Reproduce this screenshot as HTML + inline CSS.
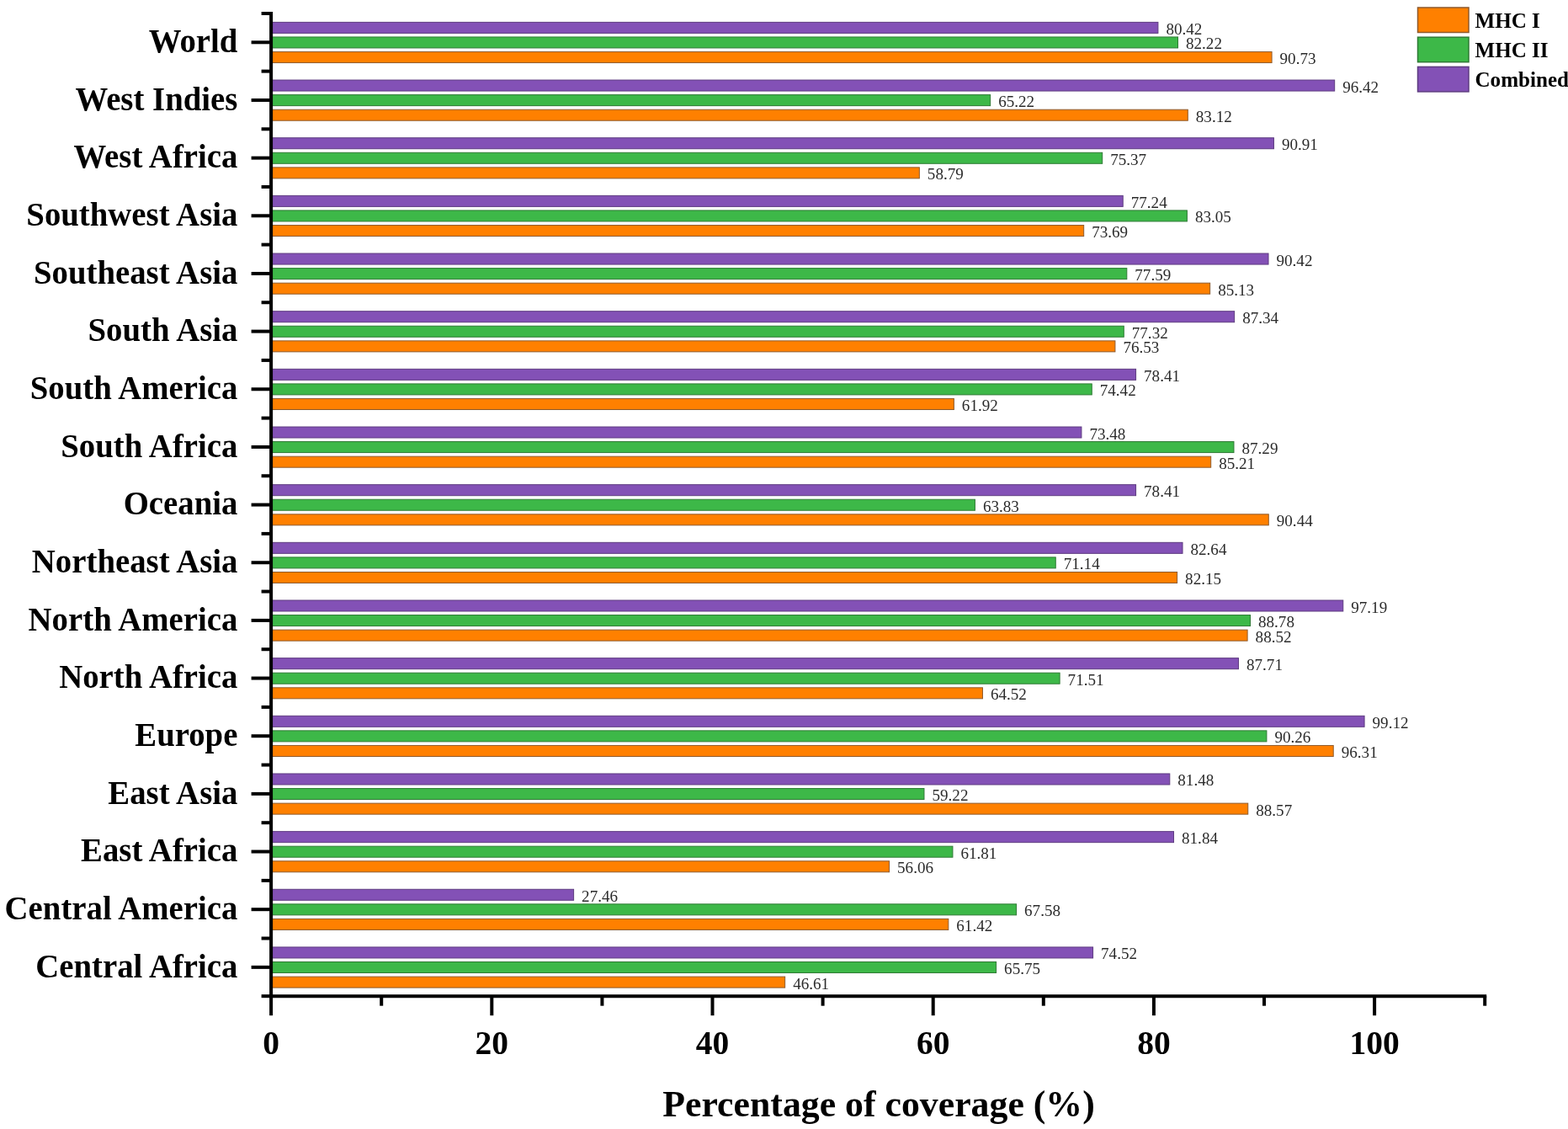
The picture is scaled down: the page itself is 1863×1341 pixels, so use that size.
<!DOCTYPE html>
<html><head><meta charset="utf-8"><title>Population coverage</title>
<style>
html,body{margin:0;padding:0;background:#fff;}
body{width:1863px;height:1341px;overflow:hidden;}
svg{display:block;}
text{font-family:"Liberation Serif","Times New Roman",serif;}
.c{font-weight:bold;font-size:38.8px;text-anchor:end;fill:#000;}
.v{font-size:19.1px;fill:#2a2a2a;}
.t{font-weight:bold;font-size:39.5px;text-anchor:middle;fill:#000;}
.ttl{font-weight:bold;font-size:43.8px;text-anchor:middle;fill:#000;}
.lg{font-weight:bold;font-size:25.1px;fill:#000;}
</style></head>
<body>
<svg width="1863" height="1341" viewBox="0 0 1863 1341">
<rect width="1863" height="1341" fill="#fff"/>
<rect x="322.1" y="26.4" width="1053.81" height="13" fill="#8351B6" stroke="#5E3C80" stroke-width="1.0"/>
<rect x="322.1" y="43.95" width="1077.4" height="13" fill="#3DB848" stroke="#2F7A35" stroke-width="1.0"/>
<rect x="322.1" y="61.55" width="1188.97" height="13" fill="#FF8000" stroke="#8E5A2C" stroke-width="1.0"/>
<rect x="322.1" y="95.06" width="1263.57" height="13" fill="#8351B6" stroke="#5E3C80" stroke-width="1.0"/>
<rect x="322.1" y="112.61" width="854.53" height="13" fill="#3DB848" stroke="#2F7A35" stroke-width="1.0"/>
<rect x="322.1" y="130.21" width="1089.2" height="13" fill="#FF8000" stroke="#8E5A2C" stroke-width="1.0"/>
<rect x="322.1" y="163.72" width="1191.33" height="13" fill="#8351B6" stroke="#5E3C80" stroke-width="1.0"/>
<rect x="322.1" y="181.27" width="987.6" height="13" fill="#3DB848" stroke="#2F7A35" stroke-width="1.0"/>
<rect x="322.1" y="198.87" width="770.24" height="13" fill="#FF8000" stroke="#8E5A2C" stroke-width="1.0"/>
<rect x="322.1" y="232.38" width="1012.12" height="13" fill="#8351B6" stroke="#5E3C80" stroke-width="1.0"/>
<rect x="322.1" y="249.93" width="1088.29" height="13" fill="#3DB848" stroke="#2F7A35" stroke-width="1.0"/>
<rect x="322.1" y="267.53" width="965.58" height="13" fill="#FF8000" stroke="#8E5A2C" stroke-width="1.0"/>
<rect x="322.1" y="301.04" width="1184.91" height="13" fill="#8351B6" stroke="#5E3C80" stroke-width="1.0"/>
<rect x="322.1" y="318.59" width="1016.7" height="13" fill="#3DB848" stroke="#2F7A35" stroke-width="1.0"/>
<rect x="322.1" y="336.19" width="1115.55" height="13" fill="#FF8000" stroke="#8E5A2C" stroke-width="1.0"/>
<rect x="322.1" y="369.7" width="1144.53" height="13" fill="#8351B6" stroke="#5E3C80" stroke-width="1.0"/>
<rect x="322.1" y="387.25" width="1013.17" height="13" fill="#3DB848" stroke="#2F7A35" stroke-width="1.0"/>
<rect x="322.1" y="404.85" width="1002.81" height="13" fill="#FF8000" stroke="#8E5A2C" stroke-width="1.0"/>
<rect x="322.1" y="438.36" width="1027.46" height="13" fill="#8351B6" stroke="#5E3C80" stroke-width="1.0"/>
<rect x="322.1" y="455.91" width="975.15" height="13" fill="#3DB848" stroke="#2F7A35" stroke-width="1.0"/>
<rect x="322.1" y="473.51" width="811.27" height="13" fill="#FF8000" stroke="#8E5A2C" stroke-width="1.0"/>
<rect x="322.1" y="507.02" width="962.82" height="13" fill="#8351B6" stroke="#5E3C80" stroke-width="1.0"/>
<rect x="322.1" y="524.57" width="1143.87" height="13" fill="#3DB848" stroke="#2F7A35" stroke-width="1.0"/>
<rect x="322.1" y="542.17" width="1116.6" height="13" fill="#FF8000" stroke="#8E5A2C" stroke-width="1.0"/>
<rect x="322.1" y="575.68" width="1027.46" height="13" fill="#8351B6" stroke="#5E3C80" stroke-width="1.0"/>
<rect x="322.1" y="593.23" width="836.31" height="13" fill="#3DB848" stroke="#2F7A35" stroke-width="1.0"/>
<rect x="322.1" y="610.83" width="1185.17" height="13" fill="#FF8000" stroke="#8E5A2C" stroke-width="1.0"/>
<rect x="322.1" y="644.34" width="1082.91" height="13" fill="#8351B6" stroke="#5E3C80" stroke-width="1.0"/>
<rect x="322.1" y="661.89" width="932.15" height="13" fill="#3DB848" stroke="#2F7A35" stroke-width="1.0"/>
<rect x="322.1" y="679.49" width="1076.49" height="13" fill="#FF8000" stroke="#8E5A2C" stroke-width="1.0"/>
<rect x="322.1" y="713" width="1273.66" height="13" fill="#8351B6" stroke="#5E3C80" stroke-width="1.0"/>
<rect x="322.1" y="730.55" width="1163.41" height="13" fill="#3DB848" stroke="#2F7A35" stroke-width="1.0"/>
<rect x="322.1" y="748.15" width="1160" height="13" fill="#FF8000" stroke="#8E5A2C" stroke-width="1.0"/>
<rect x="322.1" y="781.66" width="1149.38" height="13" fill="#8351B6" stroke="#5E3C80" stroke-width="1.0"/>
<rect x="322.1" y="799.21" width="937" height="13" fill="#3DB848" stroke="#2F7A35" stroke-width="1.0"/>
<rect x="322.1" y="816.81" width="845.36" height="13" fill="#FF8000" stroke="#8E5A2C" stroke-width="1.0"/>
<rect x="322.1" y="850.32" width="1298.96" height="13" fill="#8351B6" stroke="#5E3C80" stroke-width="1.0"/>
<rect x="322.1" y="867.87" width="1182.81" height="13" fill="#3DB848" stroke="#2F7A35" stroke-width="1.0"/>
<rect x="322.1" y="885.47" width="1262.12" height="13" fill="#FF8000" stroke="#8E5A2C" stroke-width="1.0"/>
<rect x="322.1" y="918.98" width="1067.7" height="13" fill="#8351B6" stroke="#5E3C80" stroke-width="1.0"/>
<rect x="322.1" y="936.53" width="775.87" height="13" fill="#3DB848" stroke="#2F7A35" stroke-width="1.0"/>
<rect x="322.1" y="954.13" width="1160.65" height="13" fill="#FF8000" stroke="#8E5A2C" stroke-width="1.0"/>
<rect x="322.1" y="987.64" width="1072.42" height="13" fill="#8351B6" stroke="#5E3C80" stroke-width="1.0"/>
<rect x="322.1" y="1005.19" width="809.83" height="13" fill="#3DB848" stroke="#2F7A35" stroke-width="1.0"/>
<rect x="322.1" y="1022.79" width="734.45" height="13" fill="#FF8000" stroke="#8E5A2C" stroke-width="1.0"/>
<rect x="322.1" y="1056.3" width="359.5" height="13" fill="#8351B6" stroke="#5E3C80" stroke-width="1.0"/>
<rect x="322.1" y="1073.85" width="885.47" height="13" fill="#3DB848" stroke="#2F7A35" stroke-width="1.0"/>
<rect x="322.1" y="1091.45" width="804.72" height="13" fill="#FF8000" stroke="#8E5A2C" stroke-width="1.0"/>
<rect x="322.1" y="1124.96" width="976.46" height="13" fill="#8351B6" stroke="#5E3C80" stroke-width="1.0"/>
<rect x="322.1" y="1142.51" width="861.48" height="13" fill="#3DB848" stroke="#2F7A35" stroke-width="1.0"/>
<rect x="322.1" y="1160.11" width="610.56" height="13" fill="#FF8000" stroke="#8E5A2C" stroke-width="1.0"/>
<text class="v" transform="translate(1385.41,40.9) scale(1,1.01)">80.42</text>
<text class="v" transform="translate(1409,58.45) scale(1,1.01)">82.22</text>
<text class="v" transform="translate(1520.57,76.05) scale(1,1.01)">90.73</text>
<text class="v" transform="translate(1595.17,109.56) scale(1,1.01)">96.42</text>
<text class="v" transform="translate(1186.13,127.11) scale(1,1.01)">65.22</text>
<text class="v" transform="translate(1420.8,144.71) scale(1,1.01)">83.12</text>
<text class="v" transform="translate(1522.93,178.22) scale(1,1.01)">90.91</text>
<text class="v" transform="translate(1319.2,195.77) scale(1,1.01)">75.37</text>
<text class="v" transform="translate(1101.84,213.37) scale(1,1.01)">58.79</text>
<text class="v" transform="translate(1343.72,246.88) scale(1,1.01)">77.24</text>
<text class="v" transform="translate(1419.89,264.43) scale(1,1.01)">83.05</text>
<text class="v" transform="translate(1297.18,282.03) scale(1,1.01)">73.69</text>
<text class="v" transform="translate(1516.51,315.54) scale(1,1.01)">90.42</text>
<text class="v" transform="translate(1348.3,333.09) scale(1,1.01)">77.59</text>
<text class="v" transform="translate(1447.15,350.69) scale(1,1.01)">85.13</text>
<text class="v" transform="translate(1476.13,384.2) scale(1,1.01)">87.34</text>
<text class="v" transform="translate(1344.77,401.75) scale(1,1.01)">77.32</text>
<text class="v" transform="translate(1334.41,419.35) scale(1,1.01)">76.53</text>
<text class="v" transform="translate(1359.06,452.86) scale(1,1.01)">78.41</text>
<text class="v" transform="translate(1306.75,470.41) scale(1,1.01)">74.42</text>
<text class="v" transform="translate(1142.87,488.01) scale(1,1.01)">61.92</text>
<text class="v" transform="translate(1294.42,521.52) scale(1,1.01)">73.48</text>
<text class="v" transform="translate(1475.47,539.07) scale(1,1.01)">87.29</text>
<text class="v" transform="translate(1448.2,556.67) scale(1,1.01)">85.21</text>
<text class="v" transform="translate(1359.06,590.18) scale(1,1.01)">78.41</text>
<text class="v" transform="translate(1167.91,607.73) scale(1,1.01)">63.83</text>
<text class="v" transform="translate(1516.77,625.33) scale(1,1.01)">90.44</text>
<text class="v" transform="translate(1414.51,658.84) scale(1,1.01)">82.64</text>
<text class="v" transform="translate(1263.75,676.39) scale(1,1.01)">71.14</text>
<text class="v" transform="translate(1408.09,693.99) scale(1,1.01)">82.15</text>
<text class="v" transform="translate(1605.26,727.5) scale(1,1.01)">97.19</text>
<text class="v" transform="translate(1495.01,745.05) scale(1,1.01)">88.78</text>
<text class="v" transform="translate(1491.6,762.65) scale(1,1.01)">88.52</text>
<text class="v" transform="translate(1480.98,796.16) scale(1,1.01)">87.71</text>
<text class="v" transform="translate(1268.6,813.71) scale(1,1.01)">71.51</text>
<text class="v" transform="translate(1176.96,831.31) scale(1,1.01)">64.52</text>
<text class="v" transform="translate(1630.56,864.82) scale(1,1.01)">99.12</text>
<text class="v" transform="translate(1514.41,882.37) scale(1,1.01)">90.26</text>
<text class="v" transform="translate(1593.72,899.97) scale(1,1.01)">96.31</text>
<text class="v" transform="translate(1399.3,933.48) scale(1,1.01)">81.48</text>
<text class="v" transform="translate(1107.47,951.03) scale(1,1.01)">59.22</text>
<text class="v" transform="translate(1492.25,968.63) scale(1,1.01)">88.57</text>
<text class="v" transform="translate(1404.02,1002.14) scale(1,1.01)">81.84</text>
<text class="v" transform="translate(1141.43,1019.69) scale(1,1.01)">61.81</text>
<text class="v" transform="translate(1066.05,1037.29) scale(1,1.01)">56.06</text>
<text class="v" transform="translate(691.1,1070.8) scale(1,1.01)">27.46</text>
<text class="v" transform="translate(1217.07,1088.35) scale(1,1.01)">67.58</text>
<text class="v" transform="translate(1136.32,1105.95) scale(1,1.01)">61.42</text>
<text class="v" transform="translate(1308.06,1139.46) scale(1,1.01)">74.52</text>
<text class="v" transform="translate(1193.08,1157.01) scale(1,1.01)">65.75</text>
<text class="v" transform="translate(942.16,1174.61) scale(1,1.01)">46.61</text>
<text class="c" transform="translate(282.4,62.1) scale(1,1.035)">World</text>
<text class="c" transform="translate(282.4,130.76) scale(1,1.035)">West Indies</text>
<text class="c" transform="translate(282.4,199.42) scale(1,1.035)">West Africa</text>
<text class="c" transform="translate(282.4,268.08) scale(1,1.035)">Southwest Asia</text>
<text class="c" transform="translate(282.4,336.74) scale(1,1.035)">Southeast Asia</text>
<text class="c" transform="translate(282.4,405.4) scale(1,1.035)">South Asia</text>
<text class="c" transform="translate(282.4,474.06) scale(1,1.035)">South America</text>
<text class="c" transform="translate(282.4,542.72) scale(1,1.035)">South Africa</text>
<text class="c" transform="translate(282.4,611.38) scale(1,1.035)">Oceania</text>
<text class="c" transform="translate(282.4,680.04) scale(1,1.035)">Northeast Asia</text>
<text class="c" transform="translate(282.4,748.7) scale(1,1.035)">North America</text>
<text class="c" transform="translate(282.4,817.36) scale(1,1.035)">North Africa</text>
<text class="c" transform="translate(282.4,886.02) scale(1,1.035)">Europe</text>
<text class="c" transform="translate(282.4,954.68) scale(1,1.035)">East Asia</text>
<text class="c" transform="translate(282.4,1023.34) scale(1,1.035)">East Africa</text>
<text class="c" transform="translate(282.4,1092) scale(1,1.035)">Central America</text>
<text class="c" transform="translate(282.4,1160.66) scale(1,1.035)">Central Africa</text>
<line x1="322.1" y1="13.97" x2="322.1" y2="1185.19" stroke="#000" stroke-width="4"/>
<line x1="320.1" y1="1183.19" x2="1766.2" y2="1183.19" stroke="#000" stroke-width="4"/>
<line x1="298.6" y1="50.3" x2="322.1" y2="50.3" stroke="#000" stroke-width="4"/>
<line x1="298.6" y1="118.96" x2="322.1" y2="118.96" stroke="#000" stroke-width="4"/>
<line x1="298.6" y1="187.62" x2="322.1" y2="187.62" stroke="#000" stroke-width="4"/>
<line x1="298.6" y1="256.28" x2="322.1" y2="256.28" stroke="#000" stroke-width="4"/>
<line x1="298.6" y1="324.94" x2="322.1" y2="324.94" stroke="#000" stroke-width="4"/>
<line x1="298.6" y1="393.6" x2="322.1" y2="393.6" stroke="#000" stroke-width="4"/>
<line x1="298.6" y1="462.26" x2="322.1" y2="462.26" stroke="#000" stroke-width="4"/>
<line x1="298.6" y1="530.92" x2="322.1" y2="530.92" stroke="#000" stroke-width="4"/>
<line x1="298.6" y1="599.58" x2="322.1" y2="599.58" stroke="#000" stroke-width="4"/>
<line x1="298.6" y1="668.24" x2="322.1" y2="668.24" stroke="#000" stroke-width="4"/>
<line x1="298.6" y1="736.9" x2="322.1" y2="736.9" stroke="#000" stroke-width="4"/>
<line x1="298.6" y1="805.56" x2="322.1" y2="805.56" stroke="#000" stroke-width="4"/>
<line x1="298.6" y1="874.22" x2="322.1" y2="874.22" stroke="#000" stroke-width="4"/>
<line x1="298.6" y1="942.88" x2="322.1" y2="942.88" stroke="#000" stroke-width="4"/>
<line x1="298.6" y1="1011.54" x2="322.1" y2="1011.54" stroke="#000" stroke-width="4"/>
<line x1="298.6" y1="1080.2" x2="322.1" y2="1080.2" stroke="#000" stroke-width="4"/>
<line x1="298.6" y1="1148.86" x2="322.1" y2="1148.86" stroke="#000" stroke-width="4"/>
<line x1="310.6" y1="15.97" x2="322.1" y2="15.97" stroke="#000" stroke-width="4"/>
<line x1="310.6" y1="84.63" x2="322.1" y2="84.63" stroke="#000" stroke-width="4"/>
<line x1="310.6" y1="153.29" x2="322.1" y2="153.29" stroke="#000" stroke-width="4"/>
<line x1="310.6" y1="221.95" x2="322.1" y2="221.95" stroke="#000" stroke-width="4"/>
<line x1="310.6" y1="290.61" x2="322.1" y2="290.61" stroke="#000" stroke-width="4"/>
<line x1="310.6" y1="359.27" x2="322.1" y2="359.27" stroke="#000" stroke-width="4"/>
<line x1="310.6" y1="427.93" x2="322.1" y2="427.93" stroke="#000" stroke-width="4"/>
<line x1="310.6" y1="496.59" x2="322.1" y2="496.59" stroke="#000" stroke-width="4"/>
<line x1="310.6" y1="565.25" x2="322.1" y2="565.25" stroke="#000" stroke-width="4"/>
<line x1="310.6" y1="633.91" x2="322.1" y2="633.91" stroke="#000" stroke-width="4"/>
<line x1="310.6" y1="702.57" x2="322.1" y2="702.57" stroke="#000" stroke-width="4"/>
<line x1="310.6" y1="771.23" x2="322.1" y2="771.23" stroke="#000" stroke-width="4"/>
<line x1="310.6" y1="839.89" x2="322.1" y2="839.89" stroke="#000" stroke-width="4"/>
<line x1="310.6" y1="908.55" x2="322.1" y2="908.55" stroke="#000" stroke-width="4"/>
<line x1="310.6" y1="977.21" x2="322.1" y2="977.21" stroke="#000" stroke-width="4"/>
<line x1="310.6" y1="1045.87" x2="322.1" y2="1045.87" stroke="#000" stroke-width="4"/>
<line x1="310.6" y1="1114.53" x2="322.1" y2="1114.53" stroke="#000" stroke-width="4"/>
<line x1="310.6" y1="1183.19" x2="322.1" y2="1183.19" stroke="#000" stroke-width="4"/>
<line x1="322.1" y1="1183.19" x2="322.1" y2="1206.19" stroke="#000" stroke-width="4"/>
<line x1="453.2" y1="1183.19" x2="453.2" y2="1194.69" stroke="#000" stroke-width="4"/>
<line x1="584.3" y1="1183.19" x2="584.3" y2="1206.19" stroke="#000" stroke-width="4"/>
<line x1="715.4" y1="1183.19" x2="715.4" y2="1194.69" stroke="#000" stroke-width="4"/>
<line x1="846.5" y1="1183.19" x2="846.5" y2="1206.19" stroke="#000" stroke-width="4"/>
<line x1="977.6" y1="1183.19" x2="977.6" y2="1194.69" stroke="#000" stroke-width="4"/>
<line x1="1108.7" y1="1183.19" x2="1108.7" y2="1206.19" stroke="#000" stroke-width="4"/>
<line x1="1239.8" y1="1183.19" x2="1239.8" y2="1194.69" stroke="#000" stroke-width="4"/>
<line x1="1370.9" y1="1183.19" x2="1370.9" y2="1206.19" stroke="#000" stroke-width="4"/>
<line x1="1502" y1="1183.19" x2="1502" y2="1194.69" stroke="#000" stroke-width="4"/>
<line x1="1633.1" y1="1183.19" x2="1633.1" y2="1206.19" stroke="#000" stroke-width="4"/>
<line x1="1764.2" y1="1183.19" x2="1764.2" y2="1194.69" stroke="#000" stroke-width="4"/>
<text class="t" transform="translate(322.1,1251.8) scale(1,1.02)">0</text>
<text class="t" transform="translate(584.3,1251.8) scale(1,1.02)">20</text>
<text class="t" transform="translate(846.5,1251.8) scale(1,1.02)">40</text>
<text class="t" transform="translate(1108.7,1251.8) scale(1,1.02)">60</text>
<text class="t" transform="translate(1370.9,1251.8) scale(1,1.02)">80</text>
<text class="t" transform="translate(1633.1,1251.8) scale(1,1.02)">100</text>
<text class="ttl" transform="translate(1044,1325.8) scale(1,1.035)">Percentage of coverage (%)</text>
<rect x="1684.5" y="9" width="60.5" height="29.5" fill="#FF8000" stroke="#8E5A2C" stroke-width="1.5"/>
<text class="lg" transform="translate(1752.5,32.8) scale(1,1.024)">MHC I</text>
<rect x="1684.5" y="44.2" width="60.5" height="29.5" fill="#3DB848" stroke="#2F7A35" stroke-width="1.5"/>
<text class="lg" transform="translate(1752.5,68) scale(1,1.024)">MHC II</text>
<rect x="1684.5" y="79.4" width="60.5" height="29.5" fill="#8351B6" stroke="#5E3C80" stroke-width="1.5"/>
<text class="lg" transform="translate(1752.5,103.2) scale(1,1.024)">Combined</text>
</svg>
</body></html>
